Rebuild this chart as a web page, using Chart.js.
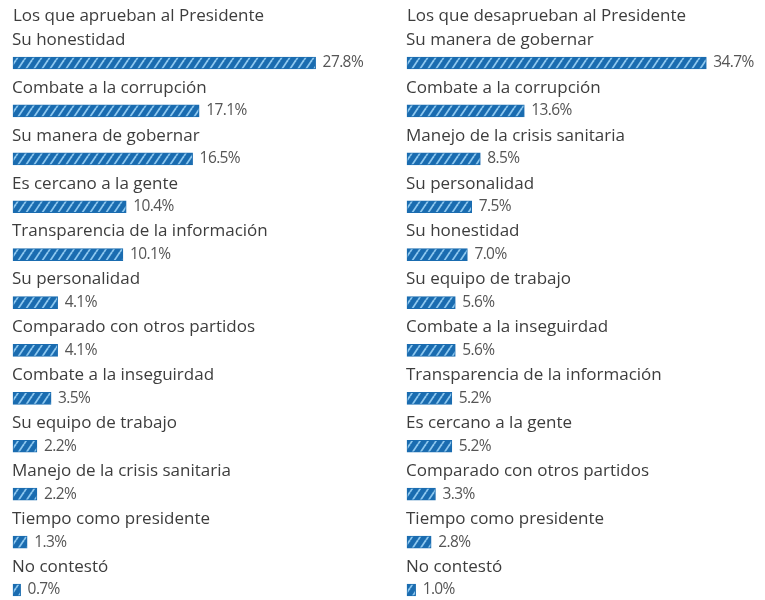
<!DOCTYPE html>
<html><head><meta charset="utf-8">
<script src="https://cdn.jsdelivr.net/npm/chart.js@4"></script>
<style>
html,body{margin:0;padding:0;background:#fff;width:765px;height:600px;overflow:hidden}
.box{position:absolute;top:0;height:600px}
#l{left:0;width:394px}
#r{left:394px;width:371px}
</style></head><body>
<div class="box" id="l"><canvas id="c1"></canvas></div>
<div class="box" id="r"><canvas id="c2"></canvas></div>
<script>
const approveTitle = "Los que aprueban al Presidente";
const approveCategories = ["Su honestidad","Combate a la corrupción","Su manera de gobernar","Es cercano a la gente","Transparencia de la información","Su personalidad","Comparado con otros partidos","Combate a la inseguirdad","Su equipo de trabajo","Manejo de la crisis sanitaria","Tiempo como presidente","No contestó"];
const approveValues = [27.8,17.1,16.5,10.4,10.1,4.1,4.1,3.5,2.2,2.2,1.3,0.7];

const disapproveTitle = "Los que desaprueban al Presidente";
const disapproveCategories = ["Su manera de gobernar","Combate a la corrupción","Manejo de la crisis sanitaria","Su personalidad","Su honestidad","Su equipo de trabajo","Combate a la inseguirdad","Transparencia de la información","Es cercano a la gente","Comparado con otros partidos","Tiempo como presidente","No contestó"];
const disapproveValues = [34.7,13.6,8.5,7.5,7.0,5.6,5.6,5.2,5.2,3.3,2.8,1.0];

const FONT = '"Open Sans"';
const TEXT = '#3d3d3d';

function makePattern(){
  const c = document.createElement('canvas');
  c.width = 8; c.height = 12;
  const g = c.getContext('2d');
  g.fillStyle = '#1a6cb0';
  g.fillRect(0,0,8,12);
  g.strokeStyle = '#8ec8ef';
  g.lineWidth = 1.8;
  [-8,0,8].forEach(o=>{
    g.beginPath(); g.moveTo(o,12); g.lineTo(o+8,0); g.stroke();
  });
  return g.createPattern(c,'repeat');
}
const pattern = makePattern();

const labelPlugin = {
  id:'barLabels',
  afterDatasetsDraw(chart){
    const ctx = chart.ctx;
    const meta = chart.getDatasetMeta(0);
    const cats = chart.data.labels;
    const vals = chart.data.datasets[0].data;
    ctx.save();
    ctx.textBaseline = 'middle';
    ctx.textAlign = 'left';
    meta.data.forEach((bar,i)=>{
      ctx.font = '17px ' + FONT;
      ctx.letterSpacing = '0px';
      ctx.fillStyle = TEXT;
      ctx.fillText(cats[i], chart.chartArea.left - 1, bar.y - 23);
      ctx.font = '15.5px ' + FONT;
      ctx.letterSpacing = '-0.6px';
      ctx.fillStyle = '#555';
      ctx.fillText(vals[i].toFixed(1) + '%', bar.x + 7, bar.y);
    });
    ctx.restore();
  }
};

function build(id, title, cats, vals, xmax){
  new Chart(document.getElementById(id), {
    type:'bar',
    data:{labels:cats, datasets:[{data:vals, backgroundColor:pattern, borderColor:'#1a6cb0', borderWidth:1, borderSkipped:false, barThickness:12, clip:false}]},
    options:{
      indexAxis:'y',
      responsive:true,
      maintainAspectRatio:false,
      animation:false,
      layout:{padding:{left:13,right:0,top:0,bottom:10}},
      scales:{
        x:{type:'linear', min:0, max:xmax, display:false},
        y:{type:'category', offset:false, display:false, grid:{offset:false}}
      },
      plugins:{
        legend:{display:false},
        tooltip:{enabled:false},
        title:{display:true, text:title, align:'start', color:TEXT,
          font:{family:'Open Sans', size:17, weight:'normal', lineHeight:1.2},
          padding:{top:6,bottom:36.6}}
      }
    },
    plugins:[labelPlugin]
  });
}
build('c1', approveTitle, approveCategories, approveValues, 35);
build('c2', disapproveTitle, disapproveCategories, disapproveValues, 41.5);
</script>
</body></html>
